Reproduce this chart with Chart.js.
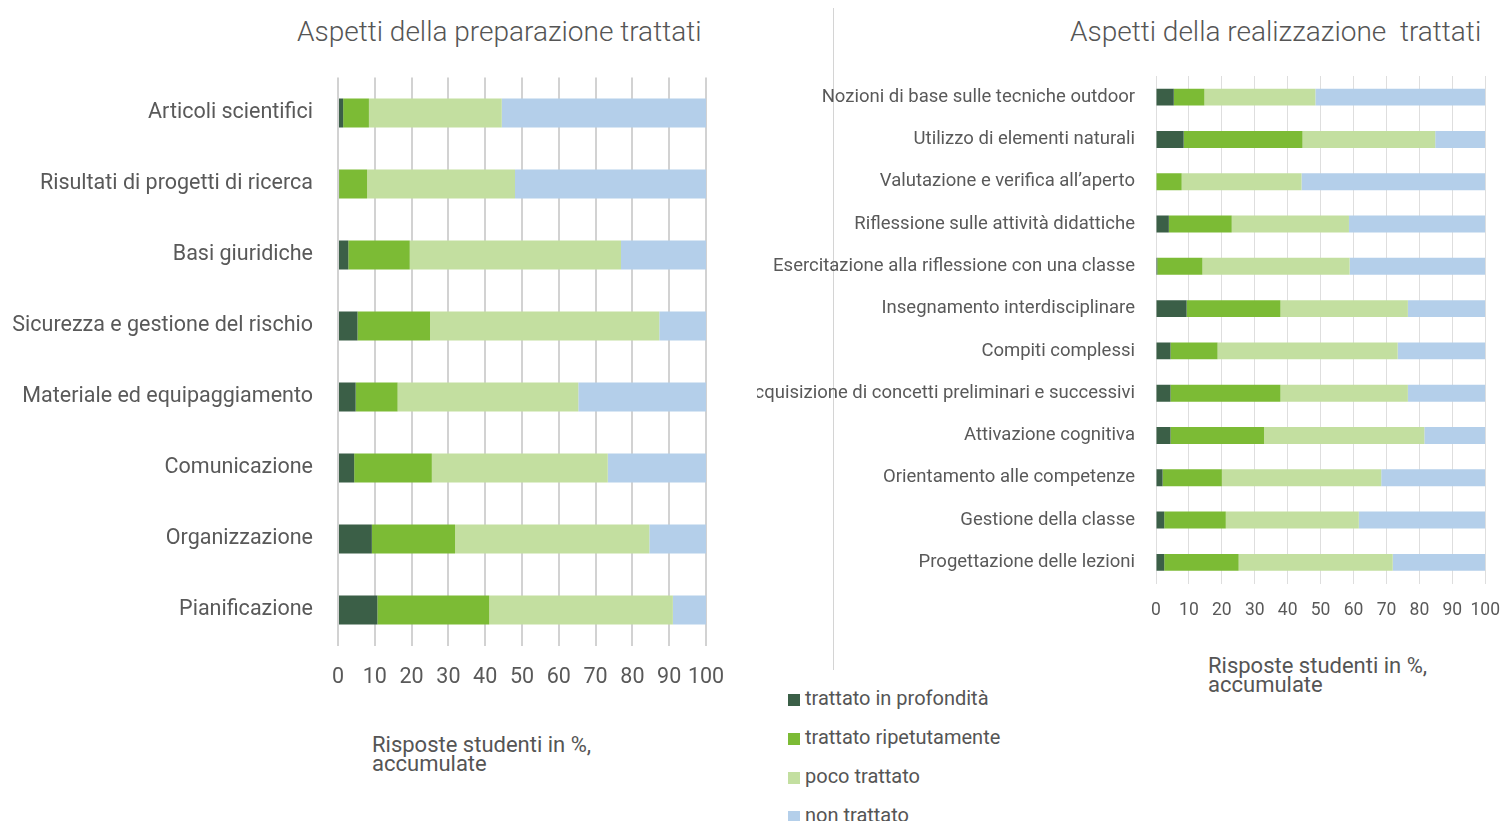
<!DOCTYPE html>
<html>
<head>
<meta charset="utf-8">
<script src="https://cdn.jsdelivr.net/npm/chart.js@4.4.1/dist/chart.umd.min.js"></script>
<style>
  html, body { margin: 0; padding: 0; background: #fff; overflow: hidden; }
  body { width: 1502px; height: 821px; position: relative; font-family: Roboto, "Noto Sans", sans-serif; color: #595959; }
  .box { position: absolute; }
  .title { position: absolute; font-size: 28px; font-weight: 300; white-space: pre; color: #555; }
  .caption { position: absolute; font-size: 22px; line-height: 19px; color: #555; }
  .sep { position: absolute; left: 833px; top: 8px; width: 1px; height: 662px; background: #d4d4d4; }
  #legend { position: absolute; left: 788px; top: 686px; font-size: 20px; color: #555; }
  #legend div { height: 39px; line-height: 24px; }
  #legend span.sw { display: inline-block; width: 12px; height: 12px; margin-right: 5px; vertical-align: -1px; }
</style>
</head>
<body>
<div class="title" style="left:297px; top:15px;">Aspetti della preparazione trattati</div>
<div class="title" style="left:1070px; top:15px; width:414px; overflow:hidden;">Aspetti della realizzazione  trattati</div>
<div class="sep"></div>
<div class="box" style="left:0; top:0;"><canvas id="prepChart" width="746" height="700"></canvas></div>
<div class="box" style="left:757px; top:0; width:745px; overflow:hidden;"><canvas id="realChart" width="760" height="640"></canvas></div>
<div class="caption" style="left:372px; top:735px;">Risposte studenti in %,<br>accumulate</div>
<div class="caption" style="left:1208px; top:656px;">Risposte studenti in %,<br>accumulate</div>
<div id="legend"></div>
<script>
// Series names + colours
const seriesNames = ['trattato in profondità', 'trattato ripetutamente', 'poco trattato', 'non trattato'];
const seriesColors = ['#3b5f47', '#7cbb35', '#c3dfa0', '#b4cfea'];
const xTicks = [0, 10, 20, 30, 40, 50, 60, 70, 80, 90, 100];

// Left chart: preparazione
const prepLabels = ['Articoli scientifici', 'Risultati di progetti di ricerca', 'Basi giuridiche',
  'Sicurezza e gestione del rischio', 'Materiale ed equipaggiamento', 'Comunicazione',
  'Organizzazione', 'Pianificazione'];
const prepProfondita  = [1.4, 0.3, 2.8, 5.3, 4.8, 4.4, 9.2, 10.7];
const prepRipetuto    = [7.0, 7.6, 16.7, 19.7, 11.4, 21.1, 22.6, 30.4];
const prepPoco        = [36.1, 40.2, 57.4, 62.3, 49.1, 47.8, 52.8, 49.9];
const prepNon         = [55.5, 51.9, 23.1, 12.7, 34.7, 26.7, 15.4, 9.0];

// Right chart: realizzazione
const realLabels = ['Nozioni di base sulle tecniche outdoor', 'Utilizzo di elementi naturali',
  'Valutazione e verifica all\u2019aperto', 'Riflessione sulle attività didattiche',
  'Esercitazione alla riflessione con una classe', 'Insegnamento interdisciplinare',
  'Compiti complessi', 'Acquisizione di concetti preliminari e successivi',
  'Attivazione cognitiva', 'Orientamento alle competenze', 'Gestione della classe',
  'Progettazione delle lezioni'];
const realProfondita = [5.4, 8.4, 0, 3.9, 0.4, 9.3, 4.4, 4.4, 4.4, 2.0, 2.5, 2.5];
const realRipetuto   = [9.3, 36.1, 7.8, 19.1, 13.7, 28.5, 14.3, 33.4, 28.4, 18.0, 18.7, 22.6];
const realPoco       = [33.7, 40.3, 36.4, 35.6, 44.7, 38.7, 54.7, 38.7, 48.7, 48.4, 40.4, 46.8];
const realNon        = [51.6, 15.2, 55.8, 41.4, 41.2, 23.5, 26.6, 23.5, 18.5, 31.6, 38.4, 28.1];

const textColor = '#595959';

function makeDatasets(series, barPct) {
  return series.map((data, i) => ({
    label: seriesNames[i],
    data: data,
    backgroundColor: seriesColors[i],
    borderWidth: 0,
    barPercentage: barPct,
    categoryPercentage: 1,
  }));
}

function makeChart(id, labels, series, opt) {
  return new Chart(document.getElementById(id), {
    type: 'bar',
    data: { labels: labels, datasets: makeDatasets(series, opt.barPct) },
    options: {
      indexAxis: 'y',
      responsive: false,
      animation: false,
      devicePixelRatio: 1,
      layout: { padding: opt.padding },
      plugins: { legend: { display: false }, tooltip: { enabled: false } },
      scales: {
        x: {
          stacked: true,
          min: 0, max: 100,
          afterBuildTicks: (scale) => { scale.ticks = xTicks.map(v => ({ value: v })); },
          afterFit: (scale) => { scale.height = opt.xHeight; },
          ticks: { color: textColor, font: { family: 'Roboto', size: opt.xFont }, padding: opt.xPad, maxRotation: 0, autoSkip: false },
          grid: { color: opt.gridColor, lineWidth: opt.gridWidth, drawTicks: false },
          border: { display: false },
        },
        y: {
          stacked: true,
          afterFit: (scale) => { scale.width = opt.yWidth; },
          ticks: { color: textColor, font: { family: 'Roboto', size: opt.yFont }, padding: opt.yPad, autoSkip: false },
          grid: { display: false },
          border: { display: false },
        }
      }
    }
  });
}

makeChart('prepChart', prepLabels, [prepProfondita, prepRipetuto, prepPoco, prepNon], {
  barPct: 0.41, padding: { top: 77.5, right: 40, bottom: 4.5, left: 0 },
  xHeight: 50, yWidth: 338, xFont: 21.5, yFont: 21.5, xPad: 19, yPad: 17,
  gridColor: '#d2d2d2', gridWidth: 2,
});

makeChart('realChart', realLabels, [realProfondita, realRipetuto, realPoco, realNon], {
  barPct: 0.40, padding: { top: 76, right: 31, bottom: 16.5, left: 0 },
  xHeight: 40, yWidth: 399, xFont: 17.5, yFont: 18.5, xPad: 17, yPad: 13,
  gridColor: '#dedede', gridWidth: 1,
});

// Legend
const legend = document.getElementById('legend');
seriesNames.forEach((name, i) => {
  const row = document.createElement('div');
  row.innerHTML = '<span class="sw" style="background:' + seriesColors[i] + '"></span>' + name;
  legend.appendChild(row);
});
</script>
</body>
</html>
